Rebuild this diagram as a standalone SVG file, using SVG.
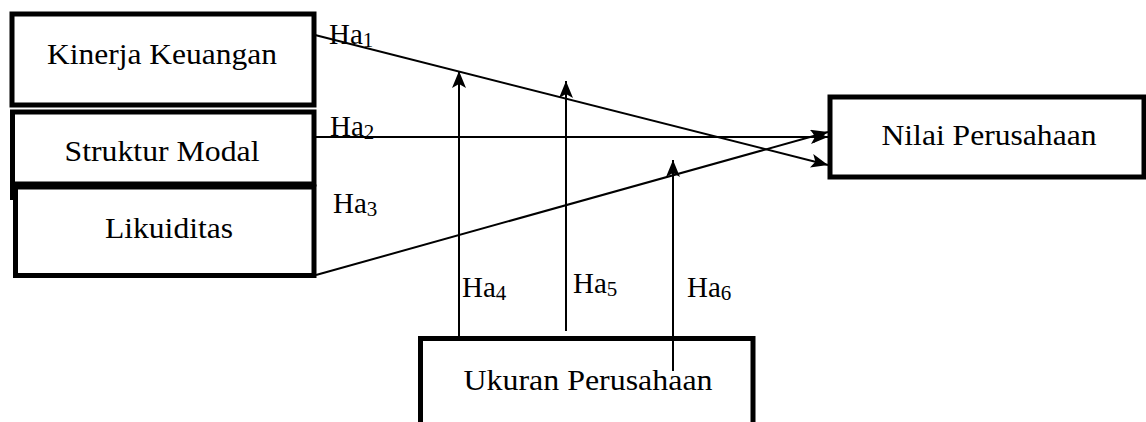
<svg xmlns="http://www.w3.org/2000/svg" width="1146" height="422" viewBox="0 0 1146 422">
<style>
.box{fill:#fff;stroke:#000;stroke-width:5}
text{font-family:'Liberation Serif','Times New Roman',serif;fill:#000}
.lbl{font-size:29px}
.ha{font-size:29px}
.sub{font-size:21px}
.conn{stroke:#000;stroke-width:2;fill:none}
</style>
<defs>
<marker id="arr" markerUnits="userSpaceOnUse" markerWidth="18" markerHeight="14" viewBox="0 0 18 14" refX="17" refY="7" orient="auto">
<path d="M0,0 L17,7 L0,14 L4,7 z" fill="#000"/>
</marker>
</defs>
<rect width="1146" height="422" fill="#fff"/>
<g id="node-kinerja">
<rect class="box" x="12" y="14" width="302" height="91"/>
<text class="lbl" x="162" y="64" text-anchor="middle" textLength="230" lengthAdjust="spacingAndGlyphs">Kinerja Keuangan</text>
</g>
<g id="node-struktur">
<path class="box" d="M12.5,200 V112 H314 V184 H12.5"/>
<text class="lbl" x="162" y="161" text-anchor="middle" textLength="195" lengthAdjust="spacingAndGlyphs">Struktur Modal</text>
</g>
<g id="node-likuiditas">
<rect class="box" x="15.5" y="187" width="298.5" height="88.5"/>
<text class="lbl" x="169" y="238" text-anchor="middle" textLength="128" lengthAdjust="spacingAndGlyphs">Likuiditas</text>
</g>
<g id="node-nilai">
<rect class="box" x="830" y="97" width="314" height="80"/>
<text class="lbl" x="989" y="145" text-anchor="middle" textLength="215" lengthAdjust="spacingAndGlyphs">Nilai Perusahaan</text>
</g>
<g id="node-ukuran">
<rect class="box" x="420.5" y="338.5" width="332.5" height="100"/>
<text class="lbl" x="588" y="390" text-anchor="middle" textLength="249" lengthAdjust="spacingAndGlyphs">Ukuran Perusahaan</text>
</g>
<g id="connectors">
<line class="conn" x1="315" y1="35" x2="828" y2="165" marker-end="url(#arr)"/>
<line class="conn" x1="314" y1="137" x2="828" y2="137" marker-end="url(#arr)"/>
<line class="conn" x1="316" y1="275" x2="828" y2="132" marker-end="url(#arr)"/>
<line class="conn" x1="459" y1="338" x2="459" y2="71" marker-end="url(#arr)"/>
<line class="conn" x1="566" y1="331" x2="566" y2="81" marker-end="url(#arr)"/>
<line class="conn" x1="673" y1="371" x2="673" y2="160" marker-end="url(#arr)"/>
</g>
<g id="labels">
<text class="ha" x="329" y="44">Ha<tspan class="sub" dy="3">1</tspan></text>
<text class="ha" x="330" y="136">Ha<tspan class="sub" dy="3">2</tspan></text>
<text class="ha" x="333" y="213">Ha<tspan class="sub" dy="3">3</tspan></text>
<text class="ha" x="462" y="297">Ha<tspan class="sub" dy="3">4</tspan></text>
<text class="ha" x="573" y="293">Ha<tspan class="sub" dy="3">5</tspan></text>
<text class="ha" x="687" y="297">Ha<tspan class="sub" dy="3">6</tspan></text>
</g>
</svg>
